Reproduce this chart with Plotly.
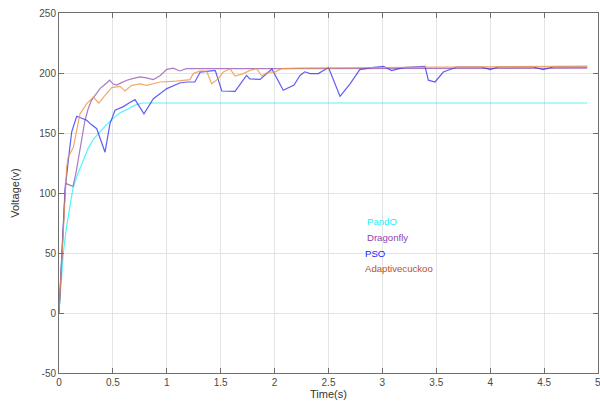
import plotly.graph_objects as go

# ---- data ----
pando_t = [0, 0.02, 0.04, 0.07, 0.10, 0.13, 0.17, 0.21, 0.27, 0.32, 0.37, 0.43, 0.50, 0.57, 0.64, 0.70, 0.77, 0.80, 4.90]
pando_v = [0, 28, 50, 72, 90, 104, 115, 124.5, 137, 145, 150, 156, 162, 167, 170, 173, 175, 175, 175]

dragon_t = [0, 0.03, 0.06, 0.09, 0.13, 0.16, 0.195, 0.24, 0.27, 0.30, 0.34, 0.38, 0.42, 0.47, 0.50, 0.535, 0.58, 0.63, 0.69, 0.75, 0.81, 0.875, 0.94, 1.00, 1.06, 1.12, 1.18, 1.25, 4.90]
dragon_v = [0, 60, 108, 107, 105.5, 118, 138, 160, 170, 177, 182, 187, 190, 194, 191, 190, 192, 194, 195.5, 196.7, 196, 194.5, 198, 203, 204, 201.7, 203.6, 203.6, 204]

pso_t = [0, 0.03, 0.056, 0.086, 0.118, 0.164, 0.21, 0.257, 0.30, 0.35, 0.427, 0.473, 0.52, 0.597, 0.65, 0.705, 0.788, 0.875, 0.94, 1.00, 1.12, 1.185, 1.26, 1.31, 1.43, 1.45, 1.51, 1.633, 1.74, 1.77, 1.865, 1.975, 2.08, 2.18, 2.236, 2.28, 2.33, 2.405, 2.50, 2.607, 2.70, 2.79, 2.90, 3.01, 3.086, 3.19, 3.395, 3.426, 3.488, 3.565, 3.69, 3.92, 4.00, 4.075, 4.40, 4.49, 4.585, 4.90]
pso_v = [0, 55, 102, 127, 151, 164, 162, 160.6, 157, 153.6, 134, 157.8, 169, 172, 175, 177.8, 166, 178.6, 183, 187, 191.7, 192.5, 192.5, 200.8, 202, 202, 185, 184.7, 198, 195, 194.7, 203.3, 185.6, 190, 198, 201, 199.5, 199.5, 204.5, 180.6, 191, 202.8, 204.5, 205.6, 202, 204.5, 205.6, 194, 192.5, 200.8, 205, 205, 202.8, 205, 205, 202.8, 205, 205]

cuckoo_t = [0, 0.03, 0.055, 0.071, 0.086, 0.133, 0.195, 0.257, 0.318, 0.37, 0.427, 0.489, 0.566, 0.612, 0.674, 0.751, 0.814, 0.937, 1.09, 1.215, 1.246, 1.308, 1.37, 1.416, 1.478, 1.524, 1.586, 1.633, 1.71, 1.77, 1.834, 1.88, 1.94, 2.00, 2.066, 2.236, 4.90]
cuckoo_v = [0, 55, 100, 121.7, 130, 138, 166, 174.5, 180, 175, 181.4, 187.8, 188.9, 185, 189.7, 191, 189.7, 192.5, 193.3, 194.5, 199.5, 201.7, 201.4, 191, 195.3, 200.8, 203.6, 197.5, 199.5, 202.2, 203.6, 197.5, 200.8, 200.8, 203.6, 204, 205.8]

names = ["PandO", "Dragonfly", "PSO", "Adaptivecuckoo"]
line_colors = ["rgba(40,240,250,0.8)", "rgba(150,90,180,0.8)", "rgba(40,40,245,0.75)", "rgba(235,150,70,0.8)"]
text_colors = ["#22f0f5", "#8e44ad", "#1a1aff", "#b5522a"]

x_tickvals = [0, 0.5, 1, 1.5, 2, 2.5, 3, 3.5, 4, 4.5, 5]
x_ticktext = ["0", "0.5", "1", "1.5", "2", "2.5", "3", "3.5", "4", "4.5", "5"]
y_tickvals = [-50, 0, 50, 100, 150, 200, 250]
y_ticktext = ["-50", "0", "50", "100", "150", "200", "250"]

fig = go.Figure()
series = [(pando_t, pando_v), (dragon_t, dragon_v), (pso_t, pso_v), (cuckoo_t, cuckoo_v)]
for (t, v), n, c in zip(series, names, line_colors):
    fig.add_trace(go.Scatter(x=t, y=v, mode="lines", name=n,
                             line=dict(color=c, width=1.2), showlegend=False))

# legend-like white boxes and colored labels
fig.add_shape(type="rect", xref="x", yref="y", x0=2.79, x1=3.35, y0=58.9, y1=84.7,
              fillcolor="white", line=dict(width=0), layer="below")
fig.add_shape(type="rect", xref="x", yref="y", x0=2.79, x1=3.67, y0=16.4, y1=59.0,
              fillcolor="white", line=dict(width=0), layer="below")
label_y = [76.4, 63.0, 49.8, 37.3]
label_x = [2.84, 2.84, 2.82, 2.82]
for n, c, lx, ly in zip(names, text_colors, label_x, label_y):
    fig.add_annotation(x=lx, y=ly, xref="x", yref="y", text=n, showarrow=False,
                       xanchor="left", yanchor="middle",
                       font=dict(family="Liberation Sans, Arial", size=9.6, color=c))

tick_font = dict(family="Liberation Sans, Arial", size=10, color="#4a4a4a")

# last x tick label (at the figure's right edge, which the axis drops)
fig.add_annotation(x=x_tickvals[-1], y=0, xref="x", yref="paper", text=x_ticktext[-1],
                   showarrow=False, xanchor="center", yanchor="top", yshift=-2,
                   font=tick_font)

axis_common = dict(showline=True, linecolor="#6e6e6e", linewidth=1, mirror="ticks",
                   ticks="inside", ticklen=5, tickcolor="#6e6e6e",
                   showgrid=True, gridcolor="#e3e3e3", gridwidth=1, zeroline=False,
                   tickfont=tick_font)

fig.update_xaxes(range=[0, 5], tickmode="array",
                 tickvals=x_tickvals, ticktext=x_ticktext,
                 title=dict(text="Time(s)", standoff=2,
                            font=dict(family="Liberation Sans, Arial", size=11, color="#333333")),
                 **axis_common)
fig.update_yaxes(range=[-50, 250], tickmode="array",
                 tickvals=y_tickvals, ticktext=y_ticktext,
                 title=dict(text="Voltage(v)", standoff=17,
                            font=dict(family="Liberation Sans, Arial", size=11, color="#333333")),
                 **axis_common)

fig.update_layout(width=600, height=403,
                  margin=dict(l=59, r=2, t=13, b=30, autoexpand=False),
                  plot_bgcolor="white", paper_bgcolor="white")

fig.write_html("out.html", config={"displayModeBar": False},
               post_script="document.body.style.margin='0';document.body.style.overflow='hidden';")
